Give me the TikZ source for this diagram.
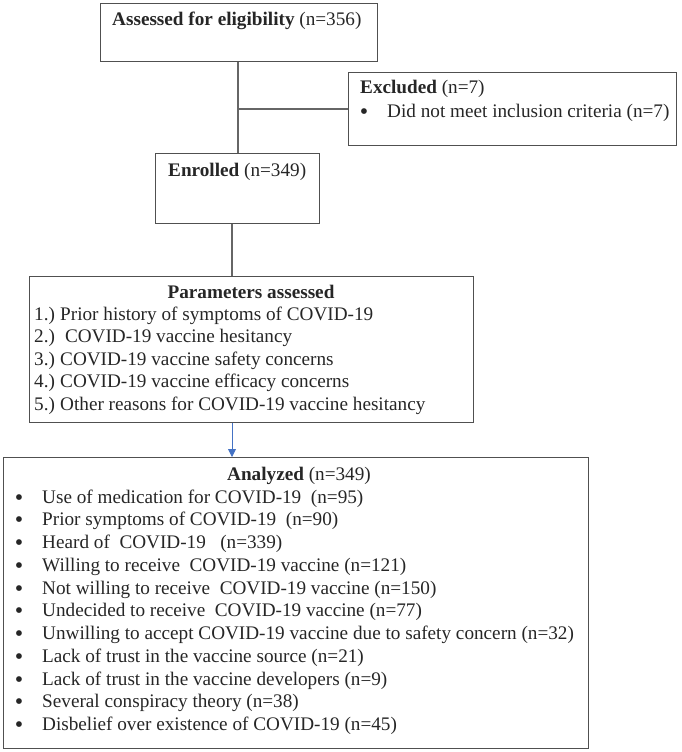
\documentclass[tikz,border=0pt]{standalone}
\usepackage{fontspec}
\setmainfont{Liberation Serif}
\usetikzlibrary{arrows.meta}
\definecolor{boxc}{HTML}{505050}
\definecolor{linec}{HTML}{666666}
\definecolor{arrc}{HTML}{4472C4}
\newcommand\myfs{\fontsize{19.2}{22}\selectfont}
\newcommand\mybul{\raisebox{-2pt}{\scalebox{1.25}{\textbullet}}}
\begin{document}
\begin{tikzpicture}[x=1pt,y=-1pt,
  box/.style={draw=boxc, line width=1.1pt, inner sep=0pt, anchor=north west},
  txt/.style={anchor=base west, inner sep=0pt, font=\myfs, text=black!85},
  ctxt/.style={anchor=base, inner sep=0pt, font=\myfs, text=black!85},
  bul/.style={anchor=base, inner sep=0pt, font=\myfs, text=black!85},
  conn/.style={draw=linec, line width=1.1pt},
  arr/.style={draw=arrc, line width=0.9pt, -{Triangle[length=8pt,width=8pt]}}]
\useasboundingbox (0,0) rectangle (682,752);
% boxes
\node[box, minimum width=277pt, minimum height=58pt] (assess) at (100,3) {};
\node[box, minimum width=328pt, minimum height=73pt] (excl) at (348,72) {};
\node[box, minimum width=164pt, minimum height=70pt] (enrol) at (155,153) {};
\node[box, minimum width=444pt, minimum height=146pt] (params) at (29,276) {};
\node[box, minimum width=585pt, minimum height=291pt] (anal) at (3,457) {};
% connectors
\coordinate (v1) at (238,109);
\coordinate (v2) at (232,0);
\draw[conn] (assess.south -| v1) -- (enrol.north -| v1);
\draw[conn] (v1) -- (v1 -| excl.west);
\draw[conn] (enrol.south -| v2) -- (params.north -| v2);
\draw[arr] (params.south -| v2) -- (anal.north -| v2);
% texts
\node[txt] (t1) at (112,26) {\textbf{Assessed for eligibility} (n=356)};
\node[txt] (t2) at (360,93) {\textbf{Excluded} (n=7)};
\node[bul] (t2b) at (364,117) {\mybul};
\node[txt] (t2c) at (387,117) {Did not meet inclusion criteria (n=7)};
\node[txt] (t3) at (168,176) {\textbf{Enrolled} (n=349)};
\node[ctxt] (p0) at (251,298) {\textbf{Parameters assessed}};
\foreach \i/\n/\s in {1/1.)/Prior history of symptoms of COVID-19,
  2/2.)/\ COVID-19 vaccine hesitancy,
  3/3.)/COVID-19 vaccine safety concerns,
  4/4.)/COVID-19 vaccine efficacy concerns,
  5/5.)/Other reasons for COVID-19 vaccine hesitancy}{
  \node[txt] (pn\i) at (34,{297.5+22.5*\i}) {\n};
  \node[txt] (ps\i) at (60,{297.5+22.5*\i}) {\s};
}
\node[ctxt] (a0) at (299,480) {\textbf{Analyzed} (n=349)};
\foreach \i/\s in {1/Use of medication for COVID-19\ \ (n=95),
  2/Prior symptoms of COVID-19\ \ (n=90),
  3/Heard of\ \ COVID-19\ \ \ (n=339),
  4/Willing to receive\ \ COVID-19 vaccine (n=121),
  5/Not willing to receive\ \ COVID-19 vaccine (n=150),
  6/Undecided to receive\ \ COVID-19 vaccine (n=77),
  7/Unwilling to accept COVID-19 vaccine due to safety concern (n=32),
  8/Lack of trust in the vaccine source (n=21),
  9/Lack of trust in the vaccine developers (n=9),
  10/Several conspiracy theory (n=38),
  11/Disbelief over existence of COVID-19 (n=45)}{
  \node[bul] (ab\i) at (19,{480.25+22.75*\i}) {\mybul};
  \node[txt] (as\i) at (42,{480.25+22.75*\i}) {\s};
}
\end{tikzpicture}
\end{document}
